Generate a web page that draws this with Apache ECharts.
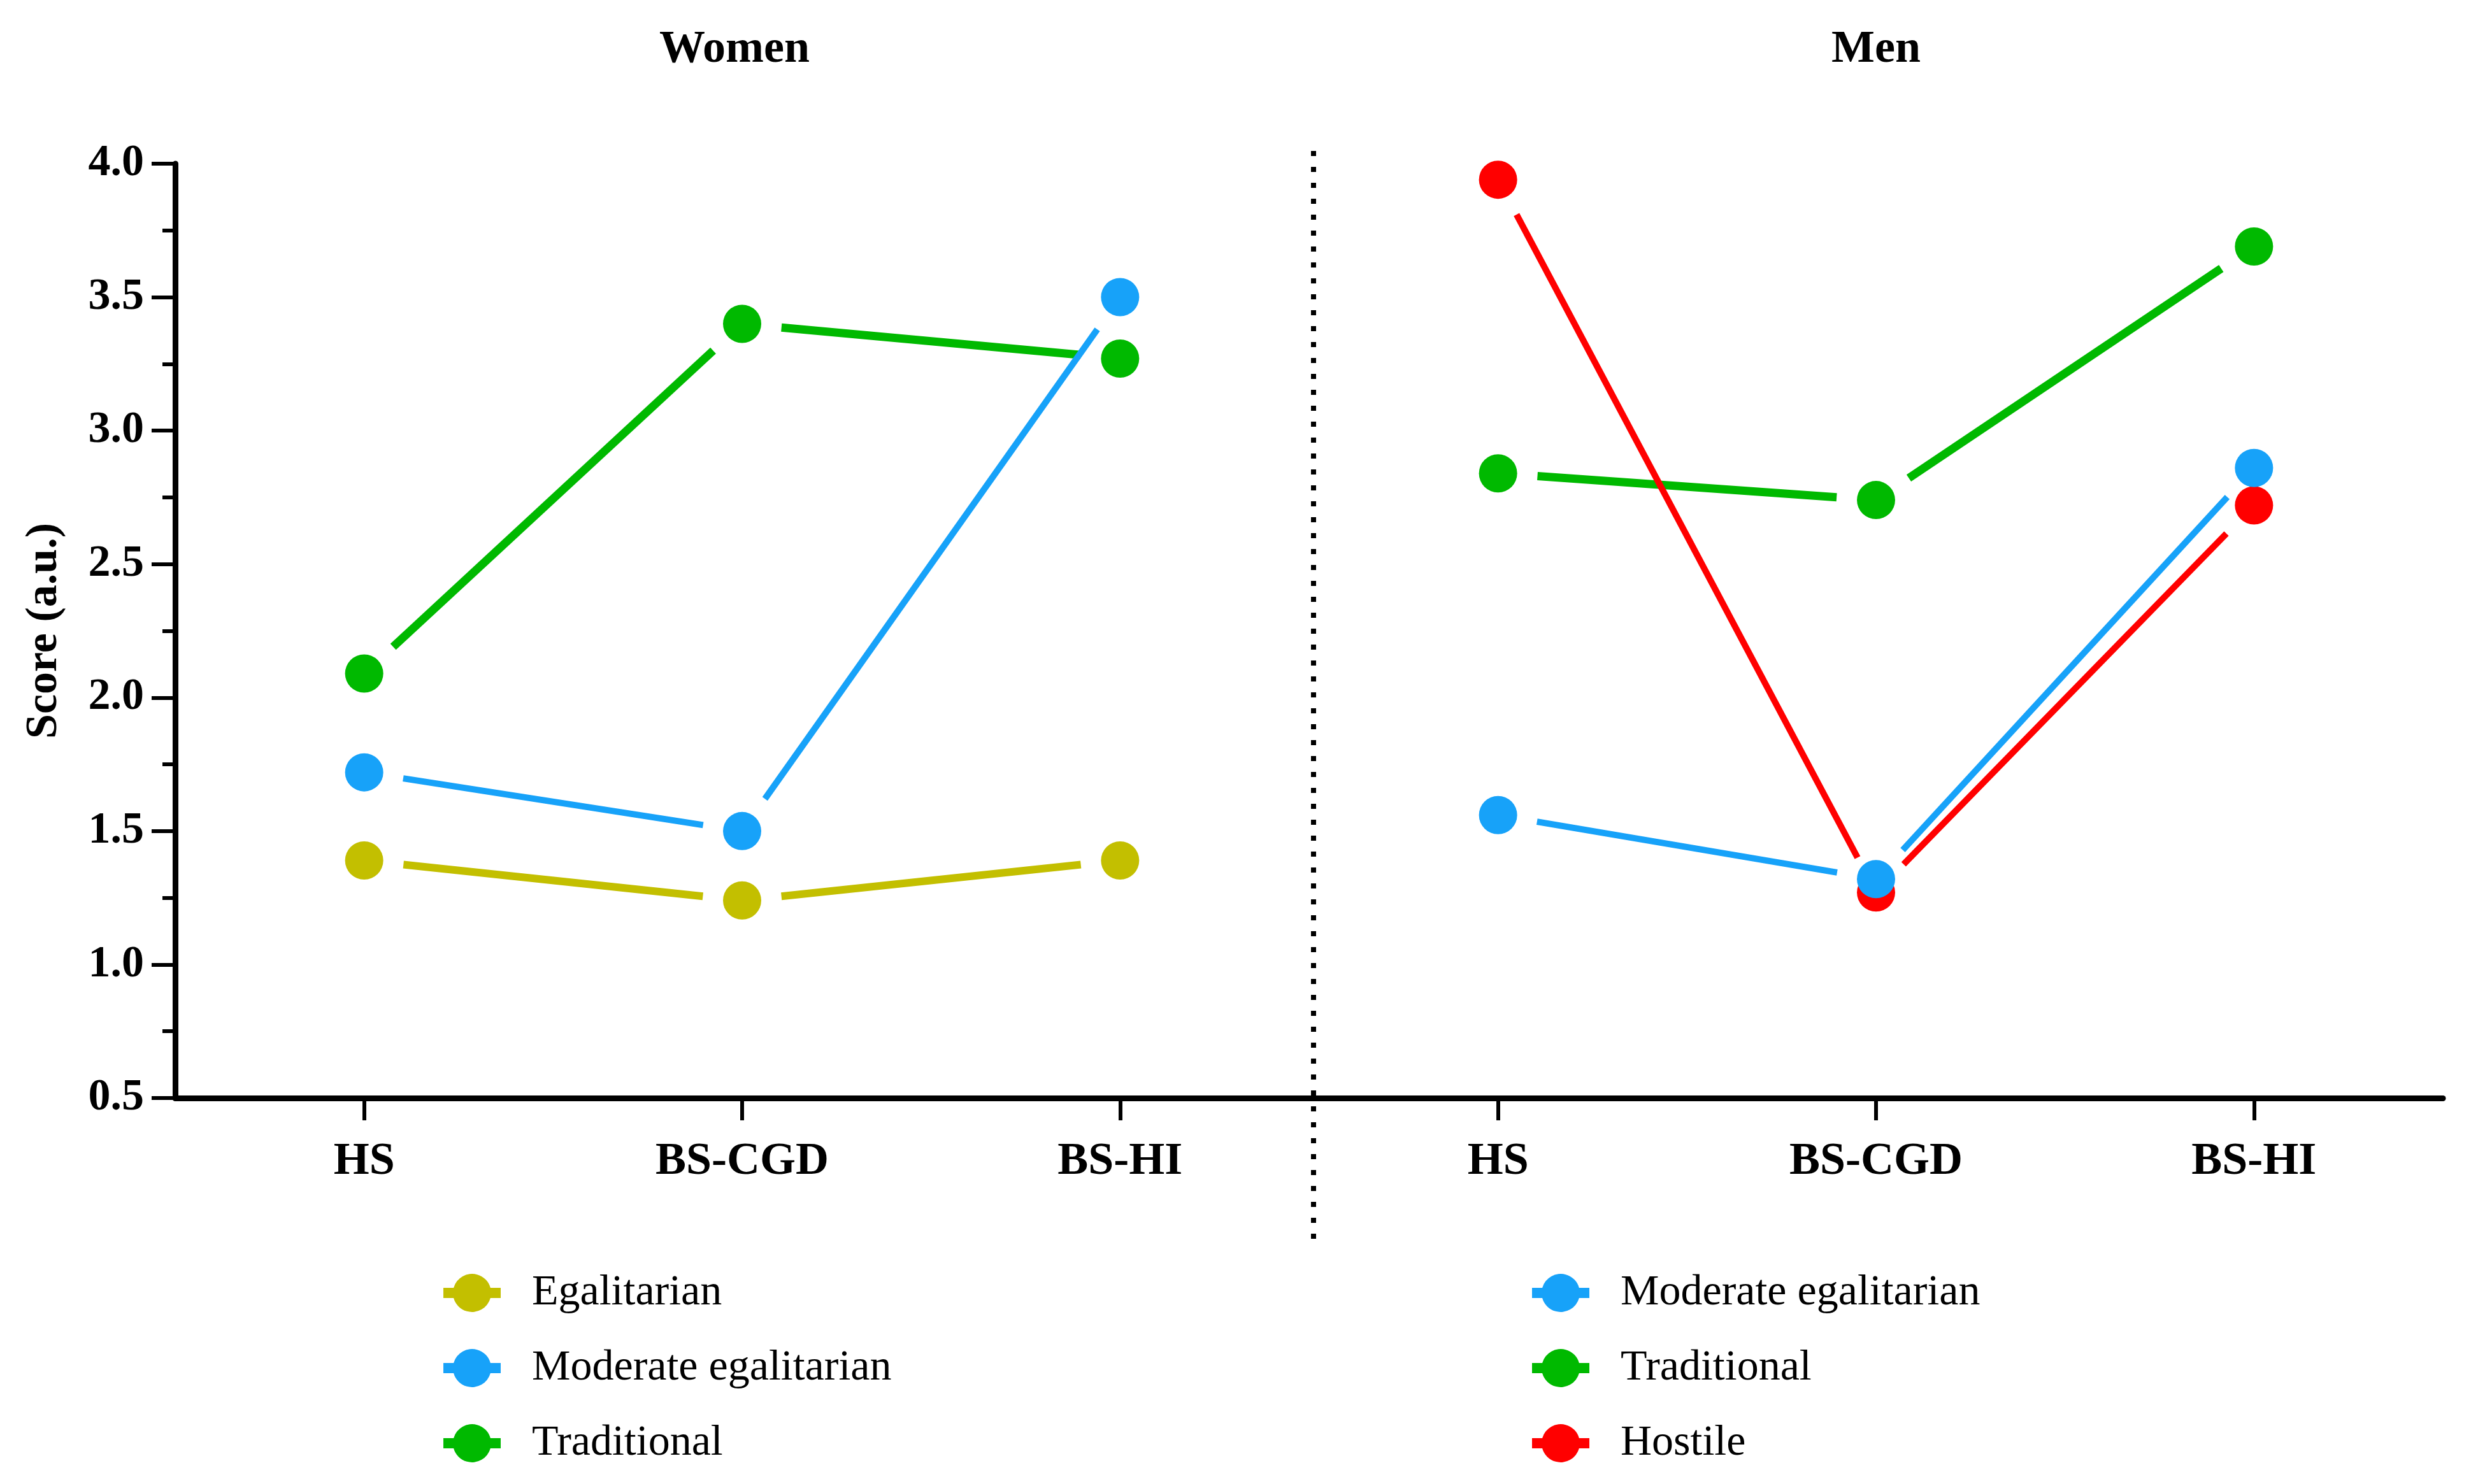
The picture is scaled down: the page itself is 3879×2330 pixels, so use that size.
<!DOCTYPE html>
<html>
<head>
<meta charset="utf-8">
<script src="https://cdn.jsdelivr.net/npm/echarts@6/dist/echarts.min.js"></script>
<style>
html,body{margin:0;padding:0;background:#fff;}
#chart{width:3879px;height:2330px;}
</style>
</head>
<body>
<div id="chart"></div>
<script>
// ---------- data ----------
const categories = ['HS', 'BS-CGD', 'BS-HI'];
const yTicks = [0.5, 1.0, 1.5, 2.0, 2.5, 3.0, 3.5, 4.0];

const womenEgalitarian = [1.39, 1.24, 1.39];
const womenModerate    = [1.72, 1.50, 3.50];
const womenTraditional = [2.09, 3.40, 3.27];

const menModerate    = [1.56, 1.32, 2.86];
const menTraditional = [2.84, 2.74, 3.69];
const menHostile     = [3.94, 1.27, 2.72];

// ---------- style ----------
const FONT = "'Liberation Serif', 'Times New Roman', serif";
const C_EGAL = '#C3BF00';
const C_MOD = '#17A2F9';
const C_TRAD = '#00B900';
const C_HOST = '#FF0000';
const GAP = 62;        // gap between line end and marker centre (px)
const SYM = 60;
const LEGEND_ICON = 'path://M0,22 L16.1,22 A30,30 0 0 1 73.9,22 L90,22 L90,38 L73.9,38 A30,30 0 0 1 16.1,38 L0,38 Z';

function segments(values) {
  const out = [];
  for (let i = 0; i < values.length - 1; i++) out.push([i, values[i], i + 1, values[i + 1]]);
  return out;
}

function lineSeries(name, values, color, width, gridIdx) {
  return {
    type: 'custom',
    name: name + ' (line)',
    xAxisIndex: gridIdx, yAxisIndex: gridIdx,
    z: 2,
    silent: true,
    itemStyle: {color: color},
    encode: {x: [0, 2], y: [1, 3]},
    data: segments(values),
    renderItem: function (params, api) {
      const p0 = api.coord([api.value(0), api.value(1)]);
      const p1 = api.coord([api.value(2), api.value(3)]);
      const dx = p1[0] - p0[0], dy = p1[1] - p0[1];
      const L = Math.hypot(dx, dy);
      if (L <= 2 * GAP) return null;
      const ux = dx / L, uy = dy / L;
      return {
        type: 'line',
        shape: {x1: p0[0] + ux * GAP, y1: p0[1] + uy * GAP, x2: p1[0] - ux * GAP, y2: p1[1] - uy * GAP},
        style: {stroke: color, lineWidth: width, lineCap: 'butt'}
      };
    }
  };
}

function markerSeries(name, values, color, gridIdx) {
  return {
    type: 'scatter',
    name: name,
    xAxisIndex: gridIdx, yAxisIndex: gridIdx,
    z: 3,
    symbol: 'circle',
    symbolSize: SYM,
    itemStyle: {color: color, opacity: 1},
    data: values
  };
}

function xAxisDef(gridIdx) {
  return {
    type: 'category',
    gridIndex: gridIdx,
    data: categories,
    boundaryGap: true,
    axisLine: {show: true, lineStyle: {color: '#000', width: 9}},
    axisTick: {show: true, alignWithLabel: true, length: 35, lineStyle: {color: '#000', width: 6}},
    axisLabel: {color: '#000', fontFamily: FONT, fontWeight: 'bold', fontSize: 72, margin: 64},
    splitLine: {show: false}
  };
}

const chart = echarts.init(document.getElementById('chart'), null, {renderer: 'canvas'});

const option = {
  backgroundColor: '#ffffff',
  animation: false,
  title: [
    {text: 'Women', left: 1153, top: 42, padding: 0, textAlign: 'center',
     textStyle: {fontFamily: FONT, fontWeight: 'bold', fontSize: 72, color: '#000'}},
    {text: 'Men', left: 2945, top: 42, padding: 0, textAlign: 'center',
     textStyle: {fontFamily: FONT, fontWeight: 'bold', fontSize: 72, color: '#000'}}
  ],
  grid: [
    {left: 275, right: 3879 - 2055, top: 257, bottom: 2330 - 1724, containLabel: false},
    {left: 2055, right: 44, top: 257, bottom: 2330 - 1724, containLabel: false}
  ],
  xAxis: [xAxisDef(0), xAxisDef(1)],
  yAxis: [
    {
      type: 'value', gridIndex: 0,
      min: yTicks[0], max: yTicks[yTicks.length - 1], interval: 0.5,
      name: 'Score (a.u.)', nameLocation: 'middle', nameGap: 170,
      nameTextStyle: {fontFamily: FONT, fontWeight: 'bold', fontSize: 70, color: '#000'},
      axisLine: {show: true, lineStyle: {color: '#000', width: 9}},
      axisTick: {show: true, length: 37, lineStyle: {color: '#000', width: 6}},
      minorTick: {show: true, splitNumber: 2, length: 20, lineStyle: {color: '#000', width: 6}},
      splitLine: {show: false},
      minorSplitLine: {show: false},
      axisLabel: {color: '#000', fontFamily: FONT, fontWeight: 'bold', fontSize: 70, margin: 49,
                  formatter: v => v.toFixed(1)}
    },
    {
      type: 'value', gridIndex: 1, show: false,
      min: yTicks[0], max: yTicks[yTicks.length - 1], interval: 0.5,
      splitLine: {show: false}
    }
  ],
  legend: [
    {
      orient: 'vertical', left: 696, top: 1996, padding: 0,
      itemWidth: 90, itemHeight: 60, itemGap: 50,
      data: [
        {name: 'Egalitarian', icon: LEGEND_ICON},
        {name: 'Moderate egalitarian', icon: LEGEND_ICON},
        {name: 'Traditional', icon: LEGEND_ICON}
      ],
      textStyle: {fontFamily: FONT, fontSize: 68, color: '#000', padding: [0, 0, 0, 44]},
      selectedMode: false
    },
    {
      orient: 'vertical', left: 2405, top: 1996, padding: 0,
      itemWidth: 90, itemHeight: 60, itemGap: 50,
      data: [
        {name: 'Moderate egalitarian', icon: LEGEND_ICON},
        {name: 'Traditional', icon: LEGEND_ICON},
        {name: 'Hostile', icon: LEGEND_ICON}
      ],
      textStyle: {fontFamily: FONT, fontSize: 68, color: '#000', padding: [0, 0, 0, 44]},
      selectedMode: false
    }
  ],
  graphic: [
    {type: 'line', z: 1, silent: true,
     shape: {x1: 2062, y1: 237, x2: 2062, y2: 1947},
     style: {stroke: '#000', lineWidth: 8, lineDash: [8, 17], lineCap: 'butt'}}
  ],
  series: [
    // lines (women)
    lineSeries('Traditional', womenTraditional, C_TRAD, 13, 0),
    lineSeries('Moderate egalitarian', womenModerate, C_MOD, 10, 0),
    lineSeries('Egalitarian', womenEgalitarian, C_EGAL, 12, 0),
    // lines (men)
    lineSeries('Traditional', menTraditional, C_TRAD, 13, 1),
    lineSeries('Moderate egalitarian', menModerate, C_MOD, 10, 1),
    lineSeries('Hostile', menHostile, C_HOST, 10, 1),
    // markers (women)
    markerSeries('Egalitarian', womenEgalitarian, C_EGAL, 0),
    markerSeries('Moderate egalitarian', womenModerate, C_MOD, 0),
    markerSeries('Traditional', womenTraditional, C_TRAD, 0),
    // markers (men)
    markerSeries('Traditional', menTraditional, C_TRAD, 1),
    markerSeries('Hostile', menHostile, C_HOST, 1),
    markerSeries('Moderate egalitarian', menModerate, C_MOD, 1)
  ]
};

chart.setOption(option);
</script>
</body>
</html>
